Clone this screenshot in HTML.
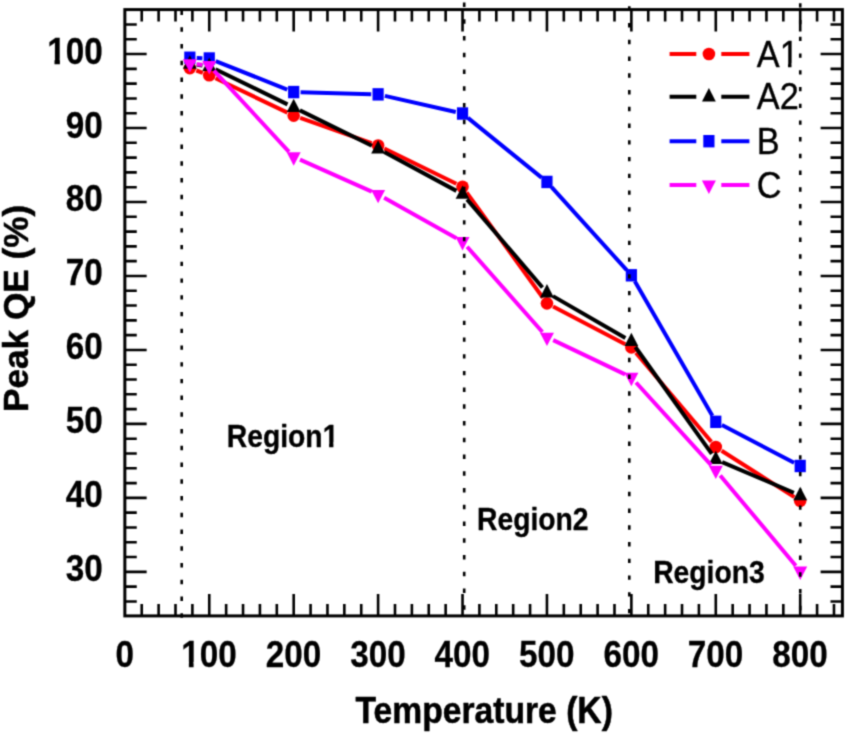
<!DOCTYPE html>
<html><head><meta charset="utf-8"><title>Peak QE vs Temperature</title>
<style>
html,body{margin:0;padding:0;background:#fff;}
body{width:845px;height:733px;overflow:hidden;}
svg{display:block;font-family:"Liberation Sans", Arial, Helvetica, sans-serif;}
svg text{font-family:"Liberation Sans", Arial, Helvetica, sans-serif;}
</style></head><body>
<svg width="845" height="733" viewBox="0 0 845 733">
<rect width="845" height="733" fill="#fff"/>
<defs><filter id="soft" x="0" y="0" width="845" height="733" filterUnits="userSpaceOnUse" color-interpolation-filters="sRGB"><feConvolveMatrix order="3" kernelMatrix="0.03607 0.11778 0.03607 0.11778 0.38462 0.11778 0.03607 0.11778 0.03607" divisor="1" edgeMode="duplicate" preserveAlpha="true"/></filter></defs>
<g filter="url(#soft)">
<rect width="845" height="733" fill="#fff"/>
<path d="M141.73 9.6 v11.9 M141.73 615.9 v-11.9 M158.62 9.6 v11.9 M158.62 615.9 v-11.9 M175.50 9.6 v11.9 M175.50 615.9 v-11.9 M192.39 9.6 v11.9 M192.39 615.9 v-11.9 M209.27 9.6 v21.8 M209.27 615.9 v-21.8 M226.15 9.6 v11.9 M226.15 615.9 v-11.9 M243.04 9.6 v11.9 M243.04 615.9 v-11.9 M259.92 9.6 v11.9 M259.92 615.9 v-11.9 M276.81 9.6 v11.9 M276.81 615.9 v-11.9 M293.69 9.6 v21.8 M293.69 615.9 v-21.8 M310.57 9.6 v11.9 M310.57 615.9 v-11.9 M327.46 9.6 v11.9 M327.46 615.9 v-11.9 M344.34 9.6 v11.9 M344.34 615.9 v-11.9 M361.23 9.6 v11.9 M361.23 615.9 v-11.9 M378.11 9.6 v21.8 M378.11 615.9 v-21.8 M394.99 9.6 v11.9 M394.99 615.9 v-11.9 M411.88 9.6 v11.9 M411.88 615.9 v-11.9 M428.76 9.6 v11.9 M428.76 615.9 v-11.9 M445.65 9.6 v11.9 M445.65 615.9 v-11.9 M462.53 9.6 v21.8 M462.53 615.9 v-21.8 M479.41 9.6 v11.9 M479.41 615.9 v-11.9 M496.30 9.6 v11.9 M496.30 615.9 v-11.9 M513.18 9.6 v11.9 M513.18 615.9 v-11.9 M530.07 9.6 v11.9 M530.07 615.9 v-11.9 M546.95 9.6 v21.8 M546.95 615.9 v-21.8 M563.83 9.6 v11.9 M563.83 615.9 v-11.9 M580.72 9.6 v11.9 M580.72 615.9 v-11.9 M597.60 9.6 v11.9 M597.60 615.9 v-11.9 M614.49 9.6 v11.9 M614.49 615.9 v-11.9 M631.37 9.6 v21.8 M631.37 615.9 v-21.8 M648.25 9.6 v11.9 M648.25 615.9 v-11.9 M665.14 9.6 v11.9 M665.14 615.9 v-11.9 M682.02 9.6 v11.9 M682.02 615.9 v-11.9 M698.91 9.6 v11.9 M698.91 615.9 v-11.9 M715.79 9.6 v21.8 M715.79 615.9 v-21.8 M732.67 9.6 v11.9 M732.67 615.9 v-11.9 M749.56 9.6 v11.9 M749.56 615.9 v-11.9 M766.44 9.6 v11.9 M766.44 615.9 v-11.9 M783.33 9.6 v11.9 M783.33 615.9 v-11.9 M800.21 9.6 v21.8 M800.21 615.9 v-21.8 M817.09 9.6 v11.9 M817.09 615.9 v-11.9 M833.98 9.6 v11.9 M833.98 615.9 v-11.9 M124.85 601.43 h11.9 M842.4 601.43 h-11.9 M124.85 586.63 h11.9 M842.4 586.63 h-11.9 M124.85 571.84 h21.8 M842.4 571.84 h-21.8 M124.85 557.05 h11.9 M842.4 557.05 h-11.9 M124.85 542.25 h11.9 M842.4 542.25 h-11.9 M124.85 527.46 h11.9 M842.4 527.46 h-11.9 M124.85 512.66 h11.9 M842.4 512.66 h-11.9 M124.85 497.87 h21.8 M842.4 497.87 h-21.8 M124.85 483.08 h11.9 M842.4 483.08 h-11.9 M124.85 468.28 h11.9 M842.4 468.28 h-11.9 M124.85 453.49 h11.9 M842.4 453.49 h-11.9 M124.85 438.69 h11.9 M842.4 438.69 h-11.9 M124.85 423.90 h21.8 M842.4 423.90 h-21.8 M124.85 409.11 h11.9 M842.4 409.11 h-11.9 M124.85 394.31 h11.9 M842.4 394.31 h-11.9 M124.85 379.52 h11.9 M842.4 379.52 h-11.9 M124.85 364.72 h11.9 M842.4 364.72 h-11.9 M124.85 349.93 h21.8 M842.4 349.93 h-21.8 M124.85 335.14 h11.9 M842.4 335.14 h-11.9 M124.85 320.34 h11.9 M842.4 320.34 h-11.9 M124.85 305.55 h11.9 M842.4 305.55 h-11.9 M124.85 290.75 h11.9 M842.4 290.75 h-11.9 M124.85 275.96 h21.8 M842.4 275.96 h-21.8 M124.85 261.17 h11.9 M842.4 261.17 h-11.9 M124.85 246.37 h11.9 M842.4 246.37 h-11.9 M124.85 231.58 h11.9 M842.4 231.58 h-11.9 M124.85 216.78 h11.9 M842.4 216.78 h-11.9 M124.85 201.99 h21.8 M842.4 201.99 h-21.8 M124.85 187.20 h11.9 M842.4 187.20 h-11.9 M124.85 172.40 h11.9 M842.4 172.40 h-11.9 M124.85 157.61 h11.9 M842.4 157.61 h-11.9 M124.85 142.81 h11.9 M842.4 142.81 h-11.9 M124.85 128.02 h21.8 M842.4 128.02 h-21.8 M124.85 113.23 h11.9 M842.4 113.23 h-11.9 M124.85 98.43 h11.9 M842.4 98.43 h-11.9 M124.85 83.64 h11.9 M842.4 83.64 h-11.9 M124.85 68.84 h11.9 M842.4 68.84 h-11.9 M124.85 54.05 h21.8 M842.4 54.05 h-21.8 M124.85 39.26 h11.9 M842.4 39.26 h-11.9 M124.85 24.46 h11.9 M842.4 24.46 h-11.9" stroke="#000" stroke-width="2.6" fill="none"/>
<rect x="124.85" y="9.6" width="717.55" height="606.3" fill="none" stroke="#000" stroke-width="3.0"/>
<path d="M196.75 58.01L202.38 58.23 M215.68 61.04L287.28 89.52 M300.59 92.26L371.21 94.18 M384.84 95.89L455.80 111.99 M467.89 117.87L541.59 177.60 M551.58 187.06L626.74 270.18 M634.81 281.27L712.35 415.85 M721.90 425.03L794.10 462.79" stroke="#0000ff" stroke-width="4.0" fill="none"/>
<rect x="184.25" y="51.55" width="11.2" height="12.4" fill="#0000ff"/>
<rect x="203.67" y="52.29" width="11.2" height="12.4" fill="#0000ff"/>
<rect x="288.09" y="85.87" width="11.2" height="12.4" fill="#0000ff"/>
<rect x="372.51" y="88.16" width="11.2" height="12.4" fill="#0000ff"/>
<rect x="456.93" y="107.32" width="11.2" height="12.4" fill="#0000ff"/>
<rect x="541.35" y="175.74" width="11.2" height="12.4" fill="#0000ff"/>
<rect x="625.77" y="269.09" width="11.2" height="12.4" fill="#0000ff"/>
<rect x="710.19" y="415.63" width="11.2" height="12.4" fill="#0000ff"/>
<rect x="794.61" y="459.79" width="11.2" height="12.4" fill="#0000ff"/>
<path d="M196.33 70.50L202.80 72.89 M215.50 78.25L287.46 112.62 M300.19 117.90L371.61 143.17 M384.31 148.51L456.33 183.72 M466.58 192.34L542.90 297.74 M553.07 306.52L625.25 344.22 M635.83 352.68L711.33 441.79 M721.61 450.76L794.39 497.12" stroke="#ff0000" stroke-width="4.0" fill="none"/>
<circle cx="189.85" cy="68.10" r="6.3" fill="#ff0000"/>
<circle cx="209.27" cy="75.28" r="6.3" fill="#ff0000"/>
<circle cx="293.69" cy="115.59" r="6.3" fill="#ff0000"/>
<circle cx="378.11" cy="145.48" r="6.3" fill="#ff0000"/>
<circle cx="462.53" cy="186.75" r="6.3" fill="#ff0000"/>
<circle cx="546.95" cy="303.33" r="6.3" fill="#ff0000"/>
<circle cx="631.37" cy="347.42" r="6.3" fill="#ff0000"/>
<circle cx="715.79" cy="447.05" r="6.3" fill="#ff0000"/>
<circle cx="800.21" cy="500.83" r="6.3" fill="#ff0000"/>
<path d="M196.71 64.75L202.41 65.40 M215.47 69.21L287.49 104.36 M299.89 110.42L371.91 145.70 M384.19 152.00L456.45 190.88 M467.02 199.39L542.46 287.44 M552.93 296.13L625.39 337.97 M635.39 347.03L711.77 453.79 M722.14 462.11L793.86 492.72" stroke="#000000" stroke-width="4.0" fill="none"/>
<polygon points="189.85,55.36 196.75,68.66 182.95,68.66" fill="#000000"/>
<polygon points="209.27,57.58 216.17,70.88 202.37,70.88" fill="#000000"/>
<polygon points="293.69,98.78 300.59,112.08 286.79,112.08" fill="#000000"/>
<polygon points="378.11,140.13 385.01,153.43 371.21,153.43" fill="#000000"/>
<polygon points="462.53,185.55 469.43,198.85 455.63,198.85" fill="#000000"/>
<polygon points="546.95,284.08 553.85,297.38 540.05,297.38" fill="#000000"/>
<polygon points="631.37,332.82 638.27,346.12 624.47,346.12" fill="#000000"/>
<polygon points="715.79,450.81 722.69,464.11 708.89,464.11" fill="#000000"/>
<polygon points="800.21,486.83 807.11,500.13 793.31,500.13" fill="#000000"/>
<path d="M196.72 64.32L202.40 64.86 M213.95 70.58L289.01 151.80 M299.99 159.67L371.81 191.64 M384.14 197.81L456.50 238.20 M467.10 246.74L542.38 332.03 M553.18 340.17L625.14 374.41 M636.01 382.48L711.15 465.03 M720.22 475.42L795.78 565.81" stroke="#ff00ff" stroke-width="4.0" fill="none"/>
<polygon points="189.85,72.57 196.85,59.17 182.85,59.17" fill="#ff00ff"/>
<polygon points="209.27,74.42 216.27,61.02 202.27,61.02" fill="#ff00ff"/>
<polygon points="293.69,165.77 300.69,152.37 286.69,152.37" fill="#ff00ff"/>
<polygon points="378.11,203.35 385.11,189.95 371.11,189.95" fill="#ff00ff"/>
<polygon points="462.53,250.46 469.53,237.06 455.53,237.06" fill="#ff00ff"/>
<polygon points="546.95,346.11 553.95,332.71 539.95,332.71" fill="#ff00ff"/>
<polygon points="631.37,386.27 638.37,372.87 624.37,372.87" fill="#ff00ff"/>
<polygon points="715.79,479.03 722.79,465.63 708.79,465.63" fill="#ff00ff"/>
<polygon points="800.21,580.00 807.21,566.60 793.21,566.60" fill="#ff00ff"/>
<path d="M181.7 10.60v4.4 M181.7 27.34v4.4 M181.7 44.08v4.4 M181.7 60.82v4.4 M181.7 77.56v4.4 M181.7 94.30v4.4 M181.7 111.04v4.4 M181.7 127.78v4.4 M181.7 144.52v4.4 M181.7 161.26v4.4 M181.7 178.00v4.4 M181.7 194.74v4.4 M181.7 211.48v4.4 M181.7 228.22v4.4 M181.7 244.96v4.4 M181.7 261.70v4.4 M181.7 278.44v4.4 M181.7 295.18v4.4 M181.7 311.92v4.4 M181.7 328.66v4.4 M181.7 345.40v4.4 M181.7 362.14v4.4 M181.7 378.88v4.4 M181.7 395.62v4.4 M181.7 412.36v4.4 M181.7 429.10v4.4 M181.7 445.84v4.4 M181.7 462.58v4.4 M181.7 479.32v4.4 M181.7 496.06v4.4 M181.7 512.80v4.4 M181.7 529.54v4.4 M181.7 546.28v4.4 M181.7 563.02v4.4 M181.7 579.76v4.4 M181.7 596.50v4.4 M181.7 613.24v4.4" stroke="#000" stroke-width="2.6" fill="none"/>
<path d="M464.2 2.60v4.4 M464.2 19.34v4.4 M464.2 36.08v4.4 M464.2 52.82v4.4 M464.2 69.56v4.4 M464.2 86.30v4.4 M464.2 103.04v4.4 M464.2 119.78v4.4 M464.2 136.52v4.4 M464.2 153.26v4.4 M464.2 170.00v4.4 M464.2 186.74v4.4 M464.2 203.48v4.4 M464.2 220.22v4.4 M464.2 236.96v4.4 M464.2 253.70v4.4 M464.2 270.44v4.4 M464.2 287.18v4.4 M464.2 303.92v4.4 M464.2 320.66v4.4 M464.2 337.40v4.4 M464.2 354.14v4.4 M464.2 370.88v4.4 M464.2 387.62v4.4 M464.2 404.36v4.4 M464.2 421.10v4.4 M464.2 437.84v4.4 M464.2 454.58v4.4 M464.2 471.32v4.4 M464.2 488.06v4.4 M464.2 504.80v4.4 M464.2 521.54v4.4 M464.2 538.28v4.4 M464.2 555.02v4.4 M464.2 571.76v4.4 M464.2 588.50v4.4 M464.2 605.24v4.4" stroke="#000" stroke-width="2.6" fill="none"/>
<path d="M629.3 6.30v4.4 M629.3 23.04v4.4 M629.3 39.78v4.4 M629.3 56.52v4.4 M629.3 73.26v4.4 M629.3 90.00v4.4 M629.3 106.74v4.4 M629.3 123.48v4.4 M629.3 140.22v4.4 M629.3 156.96v4.4 M629.3 173.70v4.4 M629.3 190.44v4.4 M629.3 207.18v4.4 M629.3 223.92v4.4 M629.3 240.66v4.4 M629.3 257.40v4.4 M629.3 274.14v4.4 M629.3 290.88v4.4 M629.3 307.62v4.4 M629.3 324.36v4.4 M629.3 341.10v4.4 M629.3 357.84v4.4 M629.3 374.58v4.4 M629.3 391.32v4.4 M629.3 408.06v4.4 M629.3 424.80v4.4 M629.3 441.54v4.4 M629.3 458.28v4.4 M629.3 475.02v4.4 M629.3 491.76v4.4 M629.3 508.50v4.4 M629.3 525.24v4.4 M629.3 541.98v4.4 M629.3 558.72v4.4 M629.3 575.46v4.4 M629.3 592.20v4.4 M629.3 608.94v4.4" stroke="#000" stroke-width="2.6" fill="none"/>
<path d="M800.25 3.20v4.4 M800.25 19.94v4.4 M800.25 36.68v4.4 M800.25 53.42v4.4 M800.25 70.16v4.4 M800.25 86.90v4.4 M800.25 103.64v4.4 M800.25 120.38v4.4 M800.25 137.12v4.4 M800.25 153.86v4.4 M800.25 170.60v4.4 M800.25 187.34v4.4 M800.25 204.08v4.4 M800.25 220.82v4.4 M800.25 237.56v4.4 M800.25 254.30v4.4 M800.25 271.04v4.4 M800.25 287.78v4.4 M800.25 304.52v4.4 M800.25 321.26v4.4 M800.25 338.00v4.4 M800.25 354.74v4.4 M800.25 371.48v4.4 M800.25 388.22v4.4 M800.25 404.96v4.4 M800.25 421.70v4.4 M800.25 438.44v4.4 M800.25 455.18v4.4 M800.25 471.92v4.4 M800.25 488.66v4.4 M800.25 505.40v4.4 M800.25 522.14v4.4 M800.25 538.88v4.4 M800.25 555.62v4.4 M800.25 572.36v4.4 M800.25 589.10v4.4 M800.25 605.84v4.4" stroke="#000" stroke-width="2.6" fill="none"/>
<path d="M669.6 54.0H696.3 M721.3 54.0H749.4" stroke="#ff0000" stroke-width="4.0" fill="none"/>
<circle cx="708.90" cy="54.00" r="6.3" fill="#ff0000"/>
<text transform="translate(756.80 66.70) scale(1.0 1.1)" font-size="34.3" stroke="#000" stroke-width="0.35" stroke-linejoin="round" text-anchor="start">A1</text>
<path d="M669.6 96.7H696.3 M721.3 96.7H749.4" stroke="#000000" stroke-width="4.0" fill="none"/>
<polygon points="708.90,88.10 715.80,101.40 702.00,101.40" fill="#000000"/>
<text transform="translate(756.80 109.40) scale(1.0 1.1)" font-size="34.3" stroke="#000" stroke-width="0.35" stroke-linejoin="round" text-anchor="start">A2</text>
<path d="M669.6 141.2H696.3 M721.3 141.2H749.4" stroke="#0000ff" stroke-width="4.0" fill="none"/>
<rect x="703.30" y="135.00" width="11.2" height="12.4" fill="#0000ff"/>
<text transform="translate(756.80 153.90) scale(1.0 1.1)" font-size="34.3" stroke="#000" stroke-width="0.35" stroke-linejoin="round" text-anchor="start">B</text>
<path d="M669.6 185.1H696.3 M721.3 185.1H749.4" stroke="#ff00ff" stroke-width="4.0" fill="none"/>
<polygon points="708.90,194.00 715.90,180.60 701.90,180.60" fill="#ff00ff"/>
<text transform="translate(756.80 197.80) scale(1.0 1.1)" font-size="34.3" stroke="#000" stroke-width="0.35" stroke-linejoin="round" text-anchor="start">C</text>
<text transform="translate(102.80 581.34) scale(1.0 1.13)" font-size="33.3" font-weight="bold" stroke="#000" stroke-width="0.25" stroke-linejoin="round" text-anchor="end">30</text>
<text transform="translate(102.80 507.37) scale(1.0 1.13)" font-size="33.3" font-weight="bold" stroke="#000" stroke-width="0.25" stroke-linejoin="round" text-anchor="end">40</text>
<text transform="translate(102.80 433.40) scale(1.0 1.13)" font-size="33.3" font-weight="bold" stroke="#000" stroke-width="0.25" stroke-linejoin="round" text-anchor="end">50</text>
<text transform="translate(102.80 359.43) scale(1.0 1.13)" font-size="33.3" font-weight="bold" stroke="#000" stroke-width="0.25" stroke-linejoin="round" text-anchor="end">60</text>
<text transform="translate(102.80 285.46) scale(1.0 1.13)" font-size="33.3" font-weight="bold" stroke="#000" stroke-width="0.25" stroke-linejoin="round" text-anchor="end">70</text>
<text transform="translate(102.80 211.49) scale(1.0 1.13)" font-size="33.3" font-weight="bold" stroke="#000" stroke-width="0.25" stroke-linejoin="round" text-anchor="end">80</text>
<text transform="translate(102.80 137.52) scale(1.0 1.13)" font-size="33.3" font-weight="bold" stroke="#000" stroke-width="0.25" stroke-linejoin="round" text-anchor="end">90</text>
<text transform="translate(102.80 63.55) scale(1.0 1.13)" font-size="33.3" font-weight="bold" stroke="#000" stroke-width="0.25" stroke-linejoin="round" text-anchor="end">100</text>
<text transform="translate(124.65 666.80) scale(1.0 1.12)" font-size="33.3" font-weight="bold" stroke="#000" stroke-width="0.25" stroke-linejoin="round" text-anchor="middle">0</text>
<text transform="translate(209.07 666.80) scale(1.0 1.12)" font-size="33.3" font-weight="bold" stroke="#000" stroke-width="0.25" stroke-linejoin="round" text-anchor="middle">100</text>
<text transform="translate(293.49 666.80) scale(1.0 1.12)" font-size="33.3" font-weight="bold" stroke="#000" stroke-width="0.25" stroke-linejoin="round" text-anchor="middle">200</text>
<text transform="translate(377.91 666.80) scale(1.0 1.12)" font-size="33.3" font-weight="bold" stroke="#000" stroke-width="0.25" stroke-linejoin="round" text-anchor="middle">300</text>
<text transform="translate(462.33 666.80) scale(1.0 1.12)" font-size="33.3" font-weight="bold" stroke="#000" stroke-width="0.25" stroke-linejoin="round" text-anchor="middle">400</text>
<text transform="translate(546.75 666.80) scale(1.0 1.12)" font-size="33.3" font-weight="bold" stroke="#000" stroke-width="0.25" stroke-linejoin="round" text-anchor="middle">500</text>
<text transform="translate(631.17 666.80) scale(1.0 1.12)" font-size="33.3" font-weight="bold" stroke="#000" stroke-width="0.25" stroke-linejoin="round" text-anchor="middle">600</text>
<text transform="translate(715.59 666.80) scale(1.0 1.12)" font-size="33.3" font-weight="bold" stroke="#000" stroke-width="0.25" stroke-linejoin="round" text-anchor="middle">700</text>
<text transform="translate(800.01 666.80) scale(1.0 1.12)" font-size="33.3" font-weight="bold" stroke="#000" stroke-width="0.25" stroke-linejoin="round" text-anchor="middle">800</text>
<text transform="translate(484.20 723.00) scale(1.0 1.075)" font-size="33.65" font-weight="bold" stroke="#000" stroke-width="0.5" stroke-linejoin="round" text-anchor="middle">Temperature (K)</text>
<text transform="translate(28.0 308.4) rotate(-90) scale(1 0.99)" font-size="35.2" font-weight="bold" stroke="#000" stroke-width="0.5" stroke-linejoin="round" text-anchor="middle">Peak QE (%)</text>
<text transform="translate(226.80 447.20) scale(1.0 1.11)" font-size="28.3" font-weight="bold" stroke="#000" stroke-width="0.3" stroke-linejoin="round" text-anchor="start">Region1</text>
<text transform="translate(477.00 529.50) scale(1.0 1.11)" font-size="28.3" font-weight="bold" stroke="#000" stroke-width="0.3" stroke-linejoin="round" text-anchor="start">Region2</text>
<text transform="translate(653.20 583.30) scale(1.0 1.11)" font-size="28.3" font-weight="bold" stroke="#000" stroke-width="0.3" stroke-linejoin="round" text-anchor="start">Region3</text>
<rect x="48.20" y="58.35" width="6.30" height="7.10" fill="#fff"/><rect x="59.90" y="58.35" width="6.60" height="7.10" fill="#fff"/>
<rect x="181.87" y="661.90" width="7.00" height="6.80" fill="#fff"/><rect x="193.57" y="661.90" width="6.00" height="6.80" fill="#fff"/>
<rect x="781.30" y="63.40" width="6.70" height="4.80" fill="#fff"/><rect x="791.50" y="63.40" width="6.90" height="4.80" fill="#fff"/>
<rect x="323.30" y="442.40" width="5.80" height="6.40" fill="#fff"/><rect x="333.40" y="442.40" width="5.40" height="6.40" fill="#fff"/>
</g>
</svg>
</body></html>
